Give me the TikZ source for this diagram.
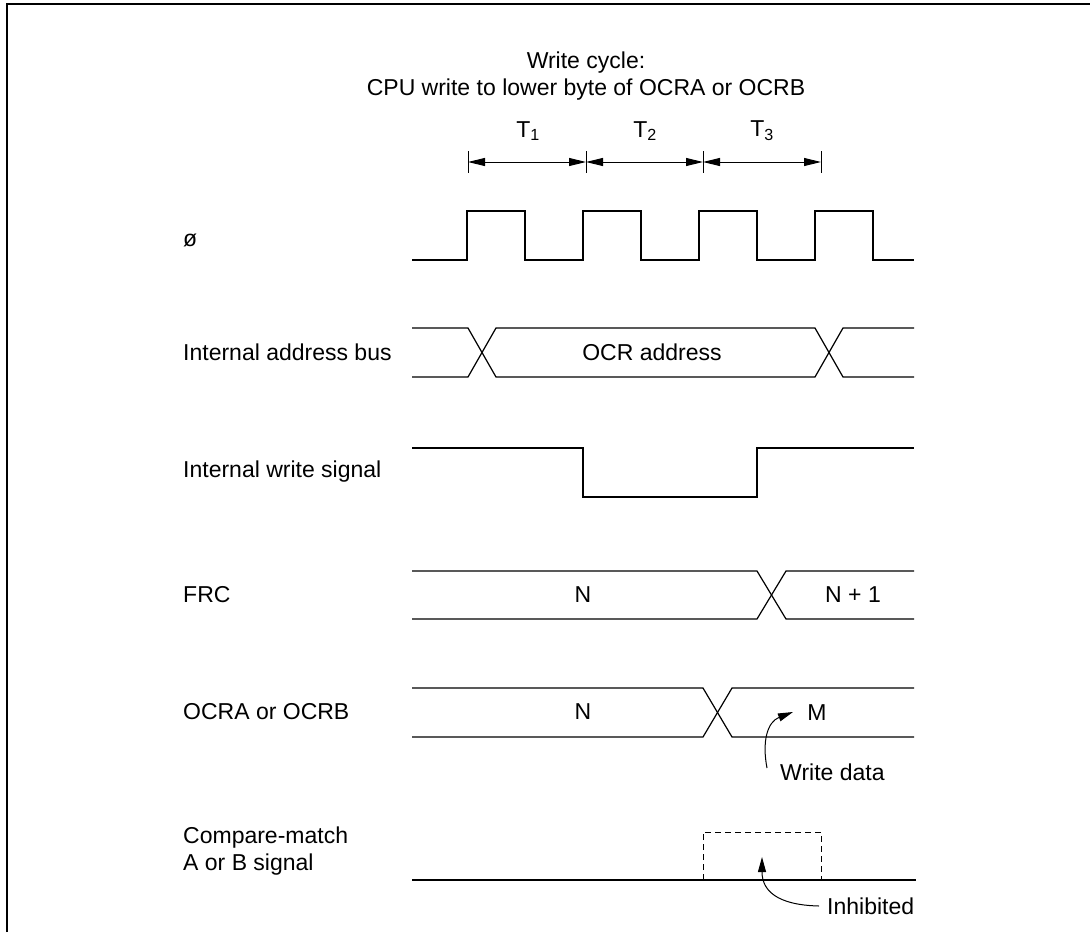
\documentclass[tikz,border=0pt]{standalone}
\usepackage{fontspec}
\setmainfont{Liberation Sans}
\usetikzlibrary{arrows.meta}
\begin{document}
\begin{tikzpicture}[x=1pt,y=-1pt,
  wave/.style={line width=1.2pt,line join=miter},
  lbl/.style={anchor=west,inner sep=0pt,font=\fontsize{23}{27}\selectfont},
  txt/.style={inner sep=0pt,font=\fontsize{23}{27}\selectfont},
  dim/.style={line width=1pt,{Triangle[length=17pt,width=8pt]}-{Triangle[length=17pt,width=8pt]}},
  tick/.style={line width=1pt},
  note/.style={line width=1pt,-{Triangle[length=15pt,width=8pt]}}]
\useasboundingbox (0,0) rectangle (1090,932);
% frame
\draw[line width=1.5pt] (7,932) -- (7,4) -- (1090,4);
% title
\node[txt,align=center] (title) at (586,76) {Write cycle:\\CPU write to lower byte of OCRA or OCRB};
% T markers
\foreach \x/\n in {468/a,586/b,703/c,821/d} \draw[tick] (\x,151) -- (\x,173) coordinate[pos=0.5] (t\n);
\draw[dim] (ta) -- (tb);
\draw[dim] (tb) -- (tc);
\draw[dim] (tc) -- (td);
\node[txt] (T1) at (528,131) {T\textsubscript{1}};
\node[txt] (T2) at (645,131) {T\textsubscript{2}};
\node[txt] (T3) at (762,131) {T\textsubscript{3}};
% labels
\node[lbl] (lphi) at (183,240) {ø};
\node[lbl] (lab) at (183,352) {Internal address bus};
\node[lbl] (lws) at (183,472) {Internal write signal};
\node[lbl] (lfrc) at (183,595) {FRC};
\node[lbl] (locr) at (183,712) {OCRA or OCRB};
\node[lbl,align=left] (lcm) at (183,851) {Compare-match\\A or B signal};
% clock
\draw[wave] (412,260) -- (467,260) -- (467,211) -- (525,211) -- (525,260) -- (583,260) -- (583,211) -- (641,211) -- (641,260) -- (699,260) -- (699,211) -- (757,211) -- (757,260) -- (815,260) -- (815,211) -- (873,211) -- (873,260) -- (914,260);
% address bus
\draw[wave] (412,328) -- (468,328) -- (496,377) -- (815,377) -- (843,328) -- (914,328);
\draw[wave] (412,377) -- (468,377) -- (496,328) -- (815,328) -- (843,377) -- (914,377);
\node[txt] (ocra) at (652,352) {OCR address};
% write signal
\draw[wave] (412,448) -- (583,448) -- (583,497) -- (757,497) -- (757,448) -- (914,448);
% FRC
\draw[wave] (412,571) -- (757,571) -- (786,619) -- (914,619);
\draw[wave] (412,619) -- (757,619) -- (786,571) -- (914,571);
\node[txt] (frcn) at (583,595) {N};
\node[txt] (frcn1) at (853,595) {N + 1};
% OCRA/OCRB
\draw[wave] (412,688) -- (703,688) -- (732,737) -- (914,737);
\draw[wave] (412,737) -- (703,737) -- (732,688) -- (914,688);
\node[txt] (ocn) at (583,712) {N};
\node[txt] (ocm) at (817,713) {M};
\node[txt,anchor=west] (wd) at (780,772) {Write data};
\coordinate (wds) at (767,768);
\coordinate (wdt) at (793,712);
\draw[note] (wds) .. controls (762,742) and (767,722) .. (wdt);
% compare match
\draw[wave] (412,880) -- (916,880);
\draw[line width=1pt,dash pattern=on 6pt off 4pt] (703,880) -- (703,832) -- (821,832) -- (821,880);
\node[txt,anchor=west] (inh) at (827,906) {Inhibited};
\coordinate (inhs) at (819,906);
\coordinate (inht) at (762,857);
\draw[note] (inhs) .. controls (776,905) and (762,890) .. (inht);
\end{tikzpicture}
\end{document}
